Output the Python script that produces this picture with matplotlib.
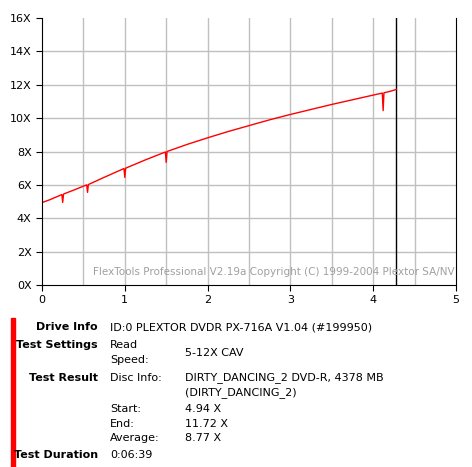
import matplotlib
matplotlib.use("Agg")
import matplotlib.pyplot as plt

pos = [0.0, 0.1, 0.24, 0.25, 0.26, 0.4, 0.54, 0.55, 0.56, 0.75, 0.99, 1.0, 1.01, 1.25, 1.49, 1.5, 1.51, 1.75, 2.0, 2.25, 2.5, 2.75, 3.0, 3.25, 3.5, 3.75, 4.0, 4.11, 4.12, 4.13, 4.2, 4.28]
speed = [4.94, 5.12, 5.42, 4.95, 5.45, 5.72, 6.0, 5.55, 6.02, 6.45, 6.98, 6.45, 7.0, 7.5, 7.97, 7.35, 8.0, 8.42, 8.82, 9.2, 9.55, 9.9, 10.22, 10.52, 10.82, 11.1, 11.38, 11.5, 10.45, 11.52, 11.6, 11.72]
xticks = [0, 1, 2, 3, 4, 5]
yticks = [0, 2, 4, 6, 8, 10, 12, 14, 16]
end_pos = 4.28

fig = plt.figure(figsize=(4.72, 4.67), dpi=100)
ax = fig.add_axes([42/472, 1-285/467, 414/472, 267/467])
ax.set_xlim(0, 5); ax.set_ylim(0, 16)
for v in [0.5*i for i in range(1, 10)]:
    ax.axvline(v, color="#c0c0c0", lw=1, zorder=0)
for v in yticks[1:-1]:
    ax.axhline(v, color="#c0c0c0", lw=1, zorder=0)
ax.axvline(end_pos, color="black", lw=1)
ax.plot(pos, speed, color="#ff0000", lw=1)
ax.set_xticks(xticks)
ax.set_yticks(yticks)
ax.set_yticklabels([f"{v}X" for v in yticks])
ax.tick_params(labelsize=8, length=4, direction="out")
for s in ["top"]:
    ax.spines[s].set_visible(False)
ax.text(4.98, 0.5, "FlexTools Professional V2.19a Copyright (C) 1999-2004 Plextor SA/NV",
        ha="right", va="bottom", fontsize=7.5, color="#a0a0a0")

fig.patches.append(plt.Rectangle((11/472, 0), 4/472, 1-318/467, transform=fig.transFigure, color="#ff0000"))
fs = 8
def T(x, y, s, bold=False, ha="left"):
    fig.text(x/472, 1-y/467, s, fontsize=fs, ha=ha, va="center", fontweight="bold" if bold else "normal")
T(98, 327, "Drive Info", True, "right")
T(110, 327, "ID:0 PLEXTOR DVDR PX-716A V1.04 (#199950)")
T(98, 345, "Test Settings", True, "right")
T(110, 345, "Read")
T(110, 360, "Speed:")
T(185, 353, "5-12X CAV")
T(98, 378, "Test Result", True, "right")
T(110, 378, "Disc Info:")
T(185, 378, "DIRTY_DANCING_2 DVD-R, 4378 MB")
T(185, 393, "(DIRTY_DANCING_2)")
T(110, 409, "Start:"); T(185, 409, "4.94 X")
T(110, 424, "End:"); T(185, 424, "11.72 X")
T(110, 438, "Average:"); T(185, 438, "8.77 X")
T(98, 455, "Test Duration", True, "right")
T(110, 455, "0:06:39")
fig.savefig("out.png", dpi=100)
